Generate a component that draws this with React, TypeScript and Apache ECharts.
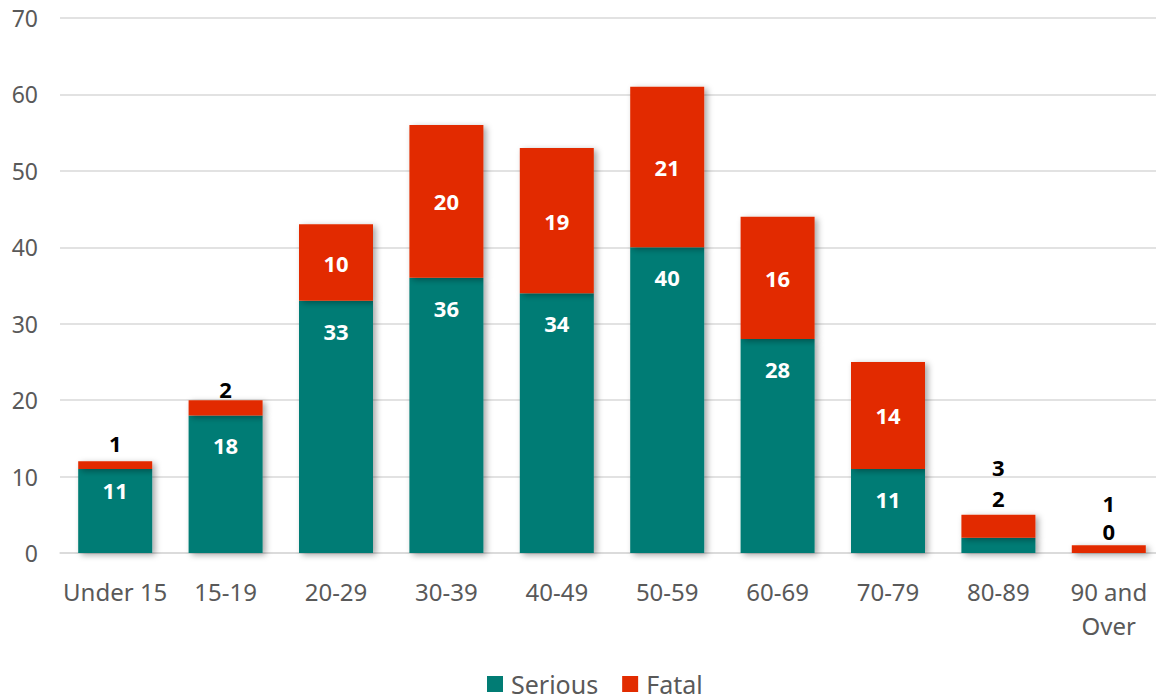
import React, { useEffect, useRef } from "react";
import * as echarts from "echarts";

const categories = ["Under 15", "15-19", "20-29", "30-39", "40-49", "50-59", "60-69", "70-79", "80-89", "90 and Over"];
const serious = [11, 18, 33, 36, 34, 40, 28, 11, 2, 0];
const fatal = [1, 2, 10, 20, 19, 21, 16, 14, 3, 1];
const yTicks = { min: 0, max: 70, interval: 10 };

const TEAL = "#017C74";
const RED = "#E22C00";
const FONT = "'Noto Sans', sans-serif";

// per-item label placements (Excel moved small labels outside)
const seriousLabelOverrides: Record<number, any> = {
  0: { position: "insideTop", distance: 10 },
  8: { position: "top", distance: 29, color: "#000" },
  9: { position: "top", distance: 11, color: "#000" },
};
const fatalLabelOverrides: Record<number, any> = {
  0: { position: "top", distance: 7, color: "#000" },
  1: { position: "top", distance: 0, color: "#000" },
  8: { position: "top", distance: 37, color: "#000" },
  9: { position: "top", distance: 31, color: "#000" },
};

export default function App() {
  const ref = useRef<HTMLDivElement>(null);
  useEffect(() => {
    if (!ref.current) return;
    const chart = echarts.init(ref.current, null, { renderer: "svg" });
    const shadow = {
      shadowBlur: 6,
      shadowOffsetX: 3,
      shadowOffsetY: 2,
      shadowColor: "rgba(0,0,0,0.35)",
    };
    const baseLabel = {
      show: true,
      color: "#fff",
      fontWeight: "bold" as const,
      fontSize: 22,
      fontFamily: FONT,
    };
    chart.setOption({
      animation: false,
      textStyle: { fontFamily: FONT },
      grid: { left: 60, width: 1104, top: 18, bottom: 147, containLabel: false },
      legend: {
        top: 667,
        left: 482,
        padding: [4, 5, 4, 5],
        itemWidth: 16,
        itemHeight: 16,
        itemGap: 24,
        icon: "rect",
        textStyle: { fontSize: 25, lineHeight: 26, color: "#595959", fontFamily: FONT, padding: [0, 0, 0, 3] },
        data: ["Serious", "Fatal"],
      },
      xAxis: {
        type: "category",
        data: categories,
        axisTick: { show: false },
        axisLine: { lineStyle: { color: "#D9D9D9", width: 1.5 } },
        axisLabel: {
          fontSize: 24,
          color: "#595959",
          margin: 21,
          lineHeight: 34,
          interval: 0,
          fontFamily: FONT,
          formatter: (v: string) => v.replace(" Over", "\nOver"),
        },
      },
      yAxis: {
        type: "value",
        min: yTicks.min,
        max: yTicks.max,
        interval: yTicks.interval,
        axisLabel: { fontSize: 23, color: "#595959", margin: 22, fontFamily: FONT },
        splitLine: { lineStyle: { color: "#D9D9D9", width: 1.5 } },
        axisLine: { show: false },
        axisTick: { show: false },
      },
      series: [
        {
          name: "Serious",
          type: "bar",
          stack: "total",
          barWidth: 74,
          itemStyle: { color: TEAL, ...shadow },
          label: { ...baseLabel, position: "insideTop", distance: 19 },
          data: serious.map((v, i) => ({
            value: v,
            label: seriousLabelOverrides[i] ? { ...seriousLabelOverrides[i] } : undefined,
          })),
        },
        {
          name: "Fatal",
          type: "bar",
          stack: "total",
          barWidth: 74,
          itemStyle: { color: RED, ...shadow },
          label: { ...baseLabel, position: "inside" },
          data: fatal.map((v, i) => ({
            value: v,
            label: fatalLabelOverrides[i] ? { ...fatalLabelOverrides[i] } : undefined,
          })),
        },
      ],
    });
    return () => chart.dispose();
  }, []);
  return (
    <div
      style={{ position: "absolute", left: 0, top: 0, width: 1156, height: 700, overflow: "hidden", background: "#fff" }}
    >
      <div ref={ref} style={{ width: 1172, height: 700 }} />
    </div>
  );
}
